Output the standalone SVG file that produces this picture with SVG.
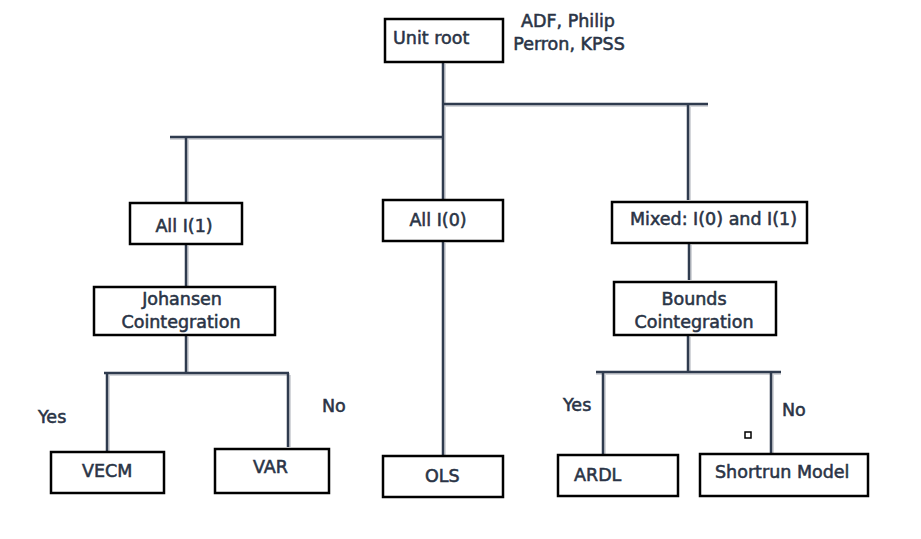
<svg xmlns="http://www.w3.org/2000/svg" width="921" height="539" viewBox="0 0 921 539">
<style>
.box{fill:#ffffff;stroke:#000000;stroke-width:2.5}
.t{font-family:"DejaVu Sans","Liberation Sans",sans-serif;font-size:17.5px;fill:#2a3446;stroke:#2a3446;stroke-width:0.55}
.c{text-anchor:middle}
.ln{stroke:#2f3b4e;stroke-width:2.5;fill:none;stroke-linecap:butt}
.sh{stroke:#d4d6da;stroke-width:2;fill:none}
</style>
<rect width="921" height="539" fill="#ffffff"/>
<g id="connectors">
<g class="sh">
<path d="M445 64V200M445 106H708M690 106V200M170 139H443M188 139V204M188 246V287M188 337V375M106 375H289M109 375V452M290 375V447M445 243V456M691 245V280M690 337V374M596 374H781M605 374V454M773 374V453"/>
</g>
<g class="ln">
<path d="M443 62V200M443 104H708M688 104V200M170 137H443M186 137V203M186 244V287M186 330V373M104 373H289M107 373V452M288 373V447M443 241V456M689 243V280M688 335V372M596 372H781M603 372V454M771 372V453"/>
</g>
</g>
<g id="unit-root">
<rect class="box" x="385" y="19" width="118" height="43"/>
<text class="t" x="393" y="44">Unit root</text>
</g>
<g id="unit-root-note">
<text class="t c" x="568" y="27">ADF, Philip</text>
<text class="t c" x="569" y="50">Perron, KPSS</text>
</g>
<g id="all-i1">
<rect class="box" x="130" y="203" width="112" height="41"/>
<text class="t c" x="184" y="232">All I(1)</text>
</g>
<g id="all-i0">
<rect class="box" x="383" y="200" width="120" height="41"/>
<text class="t c" x="438" y="226">All I(0)</text>
</g>
<g id="mixed">
<rect class="box" x="612" y="202" width="195" height="41"/>
<text class="t" x="630" y="225">Mixed: I(0) and I(1)</text>
</g>
<g id="johansen">
<rect class="box" x="94" y="287" width="181" height="48"/>
<text class="t c" x="182" y="305">Johansen</text>
<text class="t c" x="181" y="328">Cointegration</text>
</g>
<g id="bounds">
<rect class="box" x="614" y="282" width="162" height="53"/>
<text class="t c" x="694" y="305">Bounds</text>
<text class="t c" x="694" y="328">Cointegration</text>
</g>
<g id="labels">
<text class="t" x="38" y="423">Yes</text>
<text class="t" x="322" y="412">No</text>
<text class="t" x="563" y="411">Yes</text>
<text class="t" x="782" y="416">No</text>
</g>
<g id="vecm">
<rect class="box" x="51" y="452" width="113" height="41"/>
<text class="t" x="82" y="477">VECM</text>
</g>
<g id="var">
<rect class="box" x="215" y="449" width="114" height="44"/>
<text class="t" x="253" y="473">VAR</text>
</g>
<g id="ols">
<rect class="box" x="383" y="456" width="120" height="41"/>
<text class="t" x="425" y="482">OLS</text>
</g>
<g id="ardl">
<rect class="box" x="558" y="455" width="120" height="41"/>
<text class="t" x="574" y="481">ARDL</text>
</g>
<g id="shortrun">
<rect class="box" x="700" y="454" width="168" height="42"/>
<text class="t" x="715" y="478">Shortrun Model</text>
</g>
<g id="marker-square">
<rect x="745" y="432" width="6" height="6" fill="#ffffff" stroke="#000000" stroke-width="1.5"/>
</g>
</svg>
